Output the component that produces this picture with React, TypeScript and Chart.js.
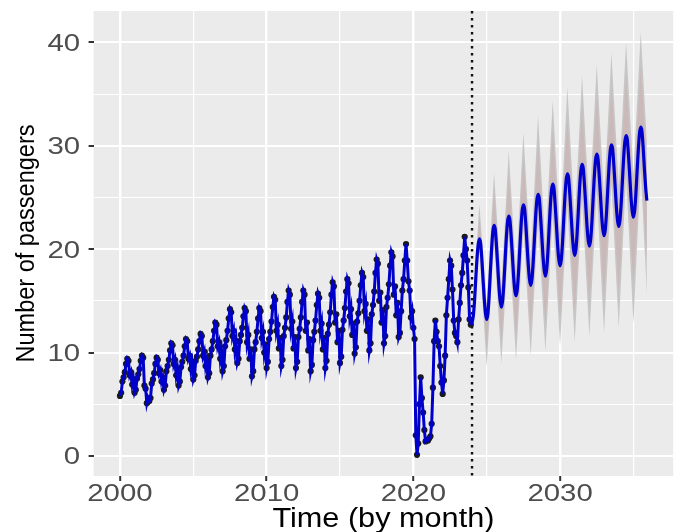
import React, { useEffect, useRef } from 'react';
import { Chart, registerables } from 'chart.js';

Chart.register(...registerables);

// ---------- data ----------
const startYear = 2000;
// monthly passengers, Jan 2000 .. Dec 2023
const passengers = [
  5.8, 6.1, 7.2, 7.6, 8.1, 8.9, 9.4, 9.2, 7.8, 8.1, 6.9, 7.4, // 2000
  6.1, 6.4, 7.5, 7.9, 8.4, 9.2, 9.7, 9.5, 6.8, 6.5, 5.1, 5.6, // 2001
  5.3, 5.6, 7.0, 7.4, 8.0, 8.9, 9.5, 9.3, 8.0, 8.3, 7.2, 7.6, // 2002
  6.4, 6.8, 8.2, 8.7, 9.3, 10.2, 10.9, 10.7, 8.9, 9.3, 7.8, 8.4, // 2003
  6.8, 7.2, 8.6, 9.1, 9.7, 10.6, 11.3, 11.1, 9.4, 9.7, 8.4, 9.0, // 2004
  7.4, 7.8, 9.2, 9.6, 10.3, 11.1, 11.8, 11.6, 9.7, 10.1, 8.7, 9.3, // 2005
  7.6, 8.0, 9.7, 10.3, 11.1, 12.1, 12.9, 12.7, 10.6, 11.0, 9.4, 10.1, // 2006
  8.2, 8.7, 10.6, 11.2, 12.1, 13.3, 14.2, 13.9, 11.6, 12.1, 10.3, 11.1, // 2007
  9.0, 9.4, 11.1, 11.7, 12.4, 13.5, 14.3, 14.0, 11.0, 11.7, 9.4, 10.3, // 2008
  7.7, 8.2, 10.3, 11.0, 12.0, 13.3, 14.3, 14.0, 11.4, 12.0, 10.0, 10.8, // 2009
  8.5, 9.1, 11.3, 12.0, 13.0, 14.4, 15.4, 15.1, 12.1, 12.7, 10.4, 11.4, // 2010
  8.7, 9.3, 11.6, 12.4, 13.4, 14.9, 16.0, 15.6, 12.3, 13.0, 10.4, 11.5, // 2011
  8.5, 9.1, 11.5, 12.3, 13.4, 14.9, 16.0, 15.6, 12.1, 12.9, 10.2, 11.3, // 2012
  8.2, 8.8, 11.2, 12.0, 13.1, 14.6, 15.7, 15.3, 12.1, 12.8, 10.3, 11.4, // 2013
  8.5, 9.2, 11.8, 12.7, 13.9, 15.6, 16.8, 16.4, 12.9, 13.7, 11.0, 12.1, // 2014
  9.0, 9.6, 12.2, 13.1, 14.3, 15.9, 17.1, 16.7, 13.5, 14.2, 11.7, 12.8, // 2015
  9.9, 10.5, 13.0, 13.8, 15.0, 16.5, 17.7, 17.3, 14.0, 14.7, 12.1, 13.2, // 2016
  10.2, 10.9, 13.7, 14.6, 15.9, 17.7, 19.0, 18.6, 15.0, 15.8, 12.9, 14.1, // 2017
  10.9, 11.6, 14.4, 15.3, 16.6, 18.4, 19.7, 19.3, 15.6, 16.4, 13.6, 14.8, // 2018
  11.5, 11.9, 14.0, 16.0, 17.1, 18.9, 20.5, 18.9, 16.9, 16.0, 13.4, 14.0, // 2019
  12.4, 11.3, 2.0, 0.1, 1.2, 5.0, 7.6, 5.6, 4.2, 2.5, 1.4, 1.5, // 2020
  1.5, 1.7, 1.9, 3.1, 6.6, 11.1, 13.1, 12.0, 11.1, 10.6, 8.7, 7.1, // 2021
  6.0, 7.3, 9.7, 13.6, 15.3, 17.1, 18.9, 18.4, 16.1, 13.1, 11.9, 11.6, // 2022
  11.0, 13.2, 14.8, 16.5, 17.7, 19.4, 21.2, 20.0, 18.9, 16.3, 13.2, 12.7, // 2023
];

const forecastStart = 2024;
// monthly point forecast, Jan 2024 .. Dec 2035
const forecastMean = [
  12.9, 13.5, 14.9, 17.0, 19.0, 20.4, 21.0, 20.6, 19.1, 17.1, 15.2, 13.8, // 2024
  13.2, 13.8, 15.5, 17.8, 20.0, 21.7, 22.3, 21.9, 20.3, 18.4, 16.4, 15.0, // 2025
  14.4, 15.0, 16.6, 18.8, 21.0, 22.6, 23.2, 22.8, 21.3, 19.4, 17.4, 16.0, // 2026
  15.5, 16.1, 17.7, 19.9, 22.1, 23.7, 24.3, 23.9, 22.4, 20.4, 18.5, 17.1, // 2027
  16.5, 17.1, 18.7, 20.9, 23.1, 24.7, 25.3, 24.9, 23.3, 21.4, 19.4, 18.0, // 2028
  17.4, 18.0, 19.6, 21.9, 24.1, 25.7, 26.3, 25.9, 24.3, 22.4, 20.4, 19.0, // 2029
  18.4, 19.0, 20.6, 22.9, 25.1, 26.7, 27.3, 26.9, 25.3, 23.4, 21.4, 20.0, // 2030
  19.4, 20.0, 21.6, 23.8, 26.0, 27.6, 28.2, 27.8, 26.2, 24.3, 22.3, 20.9, // 2031
  20.3, 20.9, 22.5, 24.8, 27.0, 28.6, 29.2, 28.8, 27.2, 25.3, 23.3, 21.9, // 2032
  21.3, 21.9, 23.5, 25.7, 27.9, 29.5, 30.1, 29.7, 28.1, 26.2, 24.2, 22.8, // 2033
  22.2, 22.8, 24.4, 26.6, 28.8, 30.4, 31.0, 30.6, 29.0, 27.1, 25.1, 23.7, // 2034
  23.1, 23.7, 25.3, 27.5, 29.6, 31.2, 31.8, 31.4, 29.8, 27.8, 26.0, 24.7, // 2035
];

// prediction interval vertices (Jan troughs / Jul peaks)
const bandTimes = [
  2024.0, 2024.5, 2025.0, 2025.5, 2026.0, 2026.5, 2027.0, 2027.5, 2028.0, 2028.5,
  2029.0, 2029.5, 2030.0, 2030.5, 2031.0, 2031.5, 2032.0, 2032.5, 2033.0, 2033.5,
  2034.0, 2034.5, 2035.0, 2035.5, 2035.917,
];
const upper95 = [
  13.2, 24.4, 14.7, 27.4, 16.4, 29.5, 17.8, 31.3, 19.1, 32.9,
  20.3, 34.4, 21.5, 35.7, 22.7, 36.8, 23.8, 37.9, 25.0, 39.0,
  26.1, 40.0, 27.2, 41.0, 30.4,
];
const lower95 = [
  12.6, 19.8, 8.6, 20.7, 8.9, 21.2, 9.3, 22.0, 9.7, 22.7,
  10.1, 23.4, 10.6, 24.2, 11.0, 24.9, 11.5, 25.7, 11.9, 26.4,
  12.4, 27.1, 12.8, 27.7, 15.6,
];
const upper80 = [
  13.1, 23.2, 14.1, 25.6, 15.6, 27.2, 16.9, 28.8, 18.1, 30.2,
  19.1, 31.5, 20.3, 32.7, 21.4, 33.7, 22.4, 34.8, 23.5, 35.8,
  24.5, 36.8, 25.6, 37.7, 28.3,
];
const lower80 = [
  12.7, 20.3, 10.3, 21.3, 10.9, 22.0, 11.5, 22.9, 12.1, 23.7,
  12.7, 24.6, 13.4, 25.4, 14.0, 26.2, 14.7, 27.1, 15.3, 27.9,
  15.9, 28.7, 16.5, 29.3, 18.9,
];

const xGridValues = [2000, 2005, 2010, 2015, 2020, 2025, 2030, 2035];
const xTickLabels = [2000, 2010, 2020, 2030];
const yGridValues = [0, 5, 10, 15, 20, 25, 30, 35, 40];
const yTickLabels = [0, 10, 20, 30, 40];
const xTitle = 'Time (by month)';
const yTitle = 'Number of passengers';

// ---------- styling ----------
const FONT = '"Liberation Sans", Arial, Helvetica, sans-serif';
const TICK_FONT = 23.5;
const TICK_SX = 1.25;
const W = 680;
const H = 532;

export default function App() {
  const ref = useRef<HTMLCanvasElement | null>(null);

  useEffect(() => {
    document.body.style.margin = '0';
    const canvas = ref.current;
    if (!canvas) return;

    const obs = passengers.map((v, i) => ({ x: startYear + i / 12, y: v }));
    const fc = [
      obs[obs.length - 1],
      ...forecastMean.map((v, i) => ({ x: forecastStart + i / 12, y: v })),
    ];
    const band = (arr: number[]) => arr.map((v, i) => ({ x: bandTimes[i], y: v }));

    const xLo = startYear;
    const xHi = forecastStart + (forecastMean.length - 1) / 12;
    const xPad = (xHi - xLo) * 0.05;
    const allY = [...passengers, ...forecastMean, ...upper95, ...lower95];
    const yLo = Math.min(...allY);
    const yHi = Math.max(...allY);
    const yPad = (yHi - yLo) * 0.05;

    const panelBg = {
      id: 'panelBg',
      beforeDraw(chart: any) {
        const { ctx, chartArea: a } = chart;
        ctx.save();
        ctx.fillStyle = '#EBEBEB';
        ctx.fillRect(a.left, a.top, a.right - a.left, a.bottom - a.top);
        ctx.restore();
      },
    };

    const dotted = {
      id: 'dotted',
      afterDatasetDraw(chart: any, args: any) {
        if (args.index !== 3) return;
        const { ctx, chartArea: a } = chart;
        const px = chart.scales.x.getPixelForValue(forecastStart);
        ctx.save();
        ctx.strokeStyle = '#111111';
        ctx.lineWidth = 2.4;
        ctx.setLineDash([2.4, 4.6]);
        ctx.beginPath();
        ctx.moveTo(px, a.top);
        ctx.lineTo(px, a.bottom);
        ctx.stroke();
        ctx.restore();
      },
    };

    const texts = {
      id: 'texts',
      afterDraw(chart: any) {
        const { ctx, chartArea: a } = chart;
        const xs = chart.scales.x;
        const ys = chart.scales.y;
        ctx.save();
        ctx.fillStyle = '#4D4D4D';
        ctx.font = `${TICK_FONT}px ${FONT}`;
        ctx.textBaseline = 'alphabetic';
        for (const v of yTickLabels) {
          const py = ys.getPixelForValue(v);
          ctx.save();
          ctx.translate(a.left - 13.5, py + TICK_FONT * 0.36);
          ctx.scale(TICK_SX, 1);
          ctx.textAlign = 'right';
          ctx.fillText(String(v), 0, 0);
          ctx.restore();
        }
        for (const v of xTickLabels) {
          const px = xs.getPixelForValue(v);
          ctx.save();
          ctx.translate(px, 501);
          ctx.scale(TICK_SX, 1);
          ctx.textAlign = 'center';
          ctx.fillText(String(v), 0, 0);
          ctx.restore();
        }
        // axis titles
        ctx.fillStyle = '#000000';
        ctx.font = `27px ${FONT}`;
        const tw = ctx.measureText(xTitle).width;
        ctx.save();
        ctx.translate((a.left + a.right) / 2, 527);
        ctx.scale(222 / tw, 1);
        ctx.textAlign = 'center';
        ctx.fillText(xTitle, 0, 0);
        ctx.restore();

        ctx.font = `26px ${FONT}`;
        const yw = ctx.measureText(yTitle).width;
        ctx.save();
        ctx.translate(34, (a.top + a.bottom) / 2);
        ctx.rotate(-Math.PI / 2);
        ctx.scale(238 / yw, 1);
        ctx.textAlign = 'center';
        ctx.fillText(yTitle, 0, 0);
        ctx.restore();
        ctx.restore();
      },
    };

    const bandDs = (data: any[], color: string | null, order: number) => ({
      data,
      showLine: true,
      borderColor: 'rgba(0,0,0,0)',
      borderWidth: 0,
      pointRadius: 0,
      tension: 0,
      fill: color ? '-1' : false,
      backgroundColor: color || 'rgba(0,0,0,0)',
      order,
    });

    const chart = new Chart(canvas, {
      type: 'line',
      data: {
        datasets: [
          bandDs(band(upper95), null, 5),
          bandDs(band(lower95), '#C6C6C6', 5),
          bandDs(band(upper80), null, 4),
          bandDs(band(lower80), '#CBB9B9', 4),
          {
            data: obs,
            showLine: false,
            pointRadius: 3.1,
            pointBackgroundColor: '#1A1A1A',
            pointBorderWidth: 0,
            order: 2,
          } as any,
          {
            data: obs,
            borderColor: '#0000CD',
            borderWidth: 3,
            pointRadius: 0,
            tension: 0,
            fill: false,
            order: 1,
          },
          {
            data: fc,
            borderColor: '#0000CD',
            borderWidth: 3.2,
            pointRadius: 0,
            cubicInterpolationMode: 'monotone',
            fill: false,
            order: 0,
          },
        ],
      },
      options: {
        responsive: false,
        animation: false,
        events: [],
        layout: { padding: { left: 0, right: 6.8, top: 11, bottom: 0 } },
        plugins: {
          legend: { display: false },
          tooltip: { enabled: false },
          title: { display: false },
        },
        scales: {
          x: {
            type: 'linear',
            min: xLo - xPad,
            max: xHi + xPad,
            afterBuildTicks: (s: any) => {
              s.ticks = xGridValues.map((v) => ({ value: v }));
            },
            afterFit: (s: any) => {
              s.height = 56;
            },
            ticks: { display: false },
            border: { display: false },
            grid: {
              color: '#FFFFFF',
              lineWidth: (c: any) => (c.tick && c.tick.value % 10 === 0 ? 2.4 : 1.2),
              drawTicks: true,
              tickLength: 5,
              tickWidth: 2,
              tickColor: (c: any) =>
                c.tick && c.tick.value % 10 === 0 ? '#333333' : 'rgba(0,0,0,0)',
            },
          },
          y: {
            type: 'linear',
            min: yLo - yPad,
            max: yHi + yPad,
            afterBuildTicks: (s: any) => {
              s.ticks = yGridValues.map((v) => ({ value: v }));
            },
            afterFit: (s: any) => {
              s.width = 93.6;
            },
            ticks: { display: false },
            border: { display: false },
            grid: {
              color: '#FFFFFF',
              lineWidth: (c: any) => (c.tick && c.tick.value % 10 === 0 ? 2 : 1),
              drawTicks: true,
              tickLength: 5,
              tickWidth: 2,
              tickColor: (c: any) =>
                c.tick && c.tick.value % 10 === 0 ? '#333333' : 'rgba(0,0,0,0)',
            },
          },
        },
      } as any,
      plugins: [panelBg, dotted, texts],
    });

    return () => chart.destroy();
  }, []);

  return (
    <div style={{ width: W, height: H, background: '#FFFFFF' }}>
      <canvas ref={ref} width={W} height={H} style={{ display: 'block' }} />
    </div>
  );
}
